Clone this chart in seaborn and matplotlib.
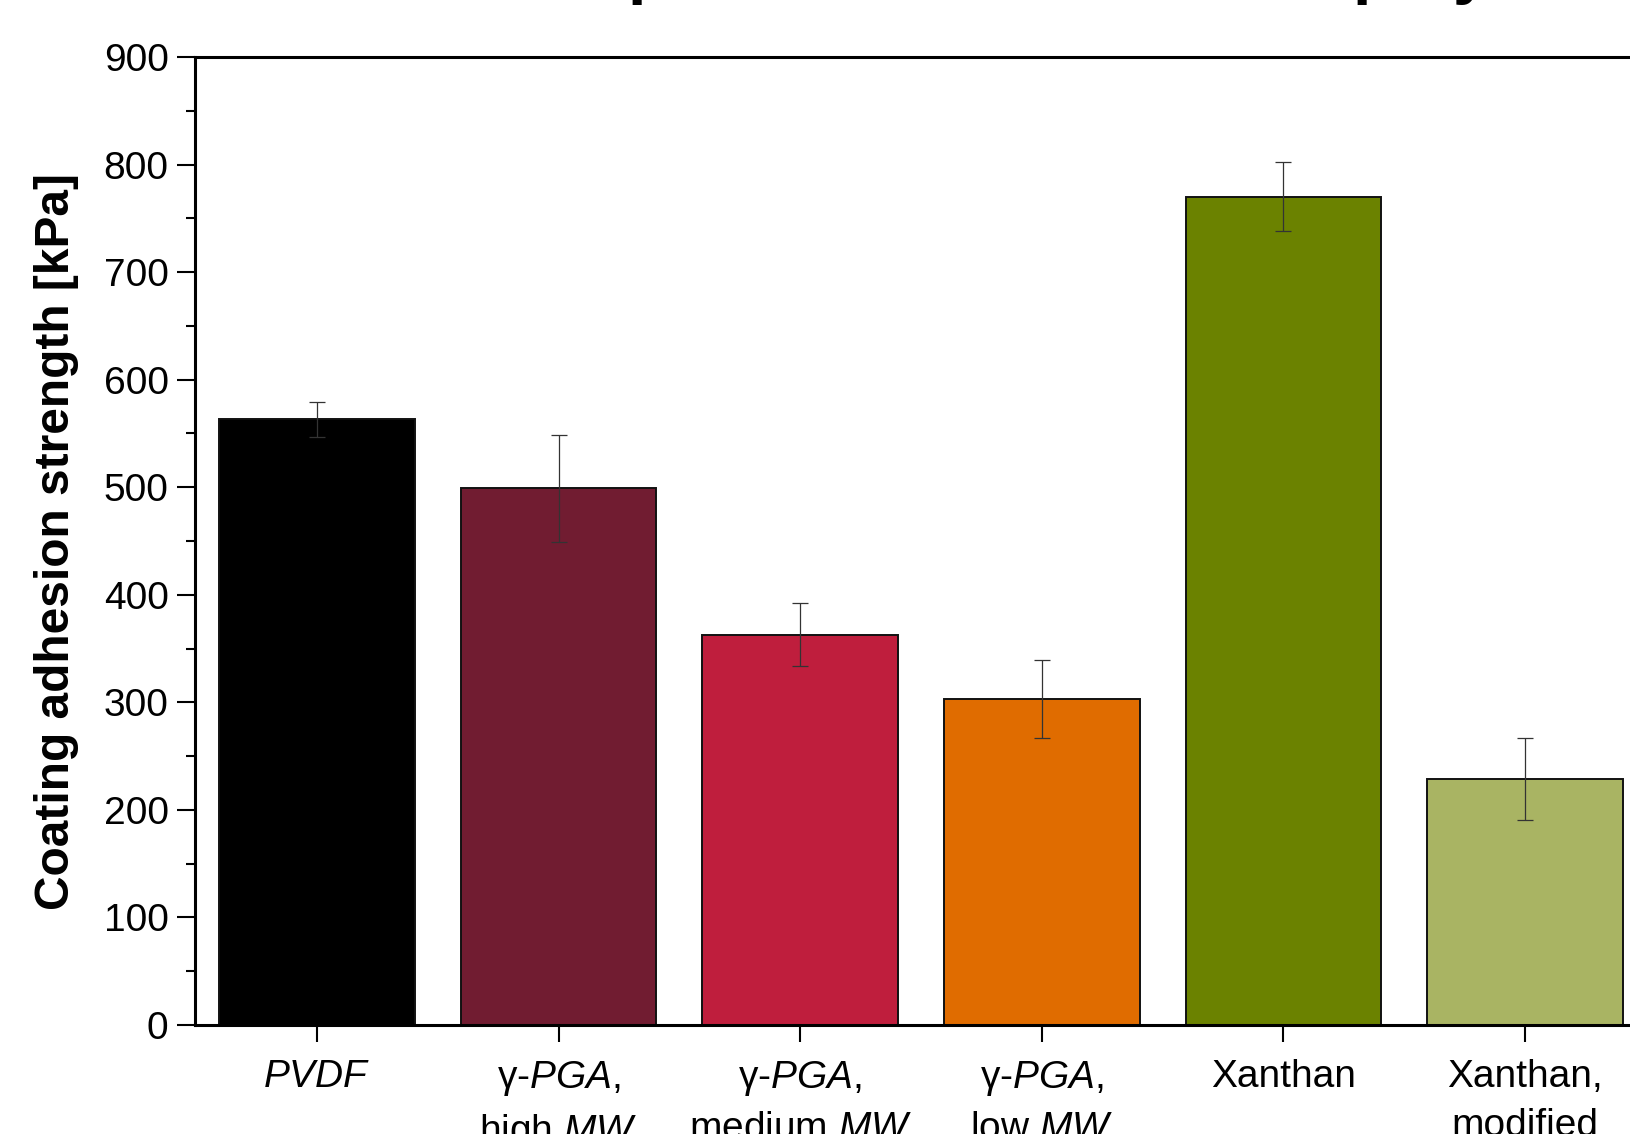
import matplotlib
matplotlib.use("Agg")
import matplotlib.pyplot as plt
import seaborn as sns
import pandas as pd
from matplotlib.ticker import MultipleLocator

# Binder samples and measured adhesion strength (mean and standard deviation, kPa)
binders = ["PVDF", "γ-PGA high MW", "γ-PGA medium MW", "γ-PGA low MW",
           "Xanthan", "Xanthan modified"]
adhesion_kpa = [563, 499, 363, 303, 770, 229]
adhesion_sd = [16, 50, 29, 36, 32, 38]
bar_colors = ["#000000", "#711c31", "#bf1e3d", "#e06c00", "#6b8200", "#a9b463"]
tick_labels = [
    r"$\mathit{PVDF}$",
    "γ-" + r"$\mathit{PGA}$," + "\n" + r"high $\mathit{MW}$",
    "γ-" + r"$\mathit{PGA}$," + "\n" + r"medium $\mathit{MW}$",
    "γ-" + r"$\mathit{PGA}$," + "\n" + r"low $\mathit{MW}$",
    "Xanthan",
    "Xanthan,\nmodified",
]
y_ticks = [0, 100, 200, 300, 400, 500, 600, 700, 800, 900]

sns.set_theme(style="ticks")
plt.rcParams["font.family"] = ["Liberation Sans", "DejaVu Sans"]
plt.rcParams["mathtext.fontset"] = "custom"
plt.rcParams["mathtext.rm"] = "Liberation Sans"
plt.rcParams["mathtext.it"] = "Liberation Sans:italic"
plt.rcParams["mathtext.bf"] = "Liberation Sans:bold"
plt.rcParams["text.color"] = "black"
plt.rcParams["axes.labelcolor"] = "black"
plt.rcParams["xtick.color"] = "black"
plt.rcParams["ytick.color"] = "black"

df = pd.DataFrame({"binder": binders, "strength": adhesion_kpa})

fig = plt.figure(figsize=(16.30, 11.34), dpi=100)
ax = fig.add_axes([195 / 1630, 1 - 1025 / 1134, 6.005 * 241.6 / 1630, (1025 - 57) / 1134])

sns.barplot(data=df, x="binder", y="strength", hue="binder", palette=bar_colors,
            order=binders, hue_order=binders, legend=False, width=0.81,
            edgecolor="#111111", linewidth=1.4, saturation=1, ax=ax)

ax.errorbar(range(len(binders)), adhesion_kpa, yerr=adhesion_sd, fmt="none",
            ecolor="#333333", elinewidth=0.9, capsize=6.1, capthick=0.9, zorder=5)

ax.set_xlim(-0.505, 5.5)
ax.set_ylim(0, 900)
ax.set_yticks(y_ticks)
ax.yaxis.set_minor_locator(MultipleLocator(50))
ax.set_xticks(range(len(binders)))
ax.set_xticklabels(tick_labels, fontsize=28, linespacing=1.45, color="black")
ax.tick_params(axis="y", which="major", direction="out", length=13, width=1.5,
               labelsize=28, pad=6, color="black", labelcolor="black")
ax.tick_params(axis="y", which="minor", direction="out", length=6.5, width=1.5,
               color="black")
ax.tick_params(axis="x", which="major", direction="out", length=12.5, width=1.5,
               pad=12, color="black")

ax.set_xlabel("")
ax.set_ylabel("Coating adhesion strength [kPa]", fontsize=34.5, fontweight="bold",
              labelpad=18, color="black")

for side in ["left", "bottom", "top", "right"]:
    ax.spines[side].set_visible(True)
    ax.spines[side].set_linewidth(2.2)
    ax.spines[side].set_color("black")

fig.text(0.600, 1.0 + 9 / 1134, "Adhesion performance of binder polymers",
         fontsize=48, fontweight="bold", ha="center", va="baseline")

fig.savefig("out.png", dpi=100)
